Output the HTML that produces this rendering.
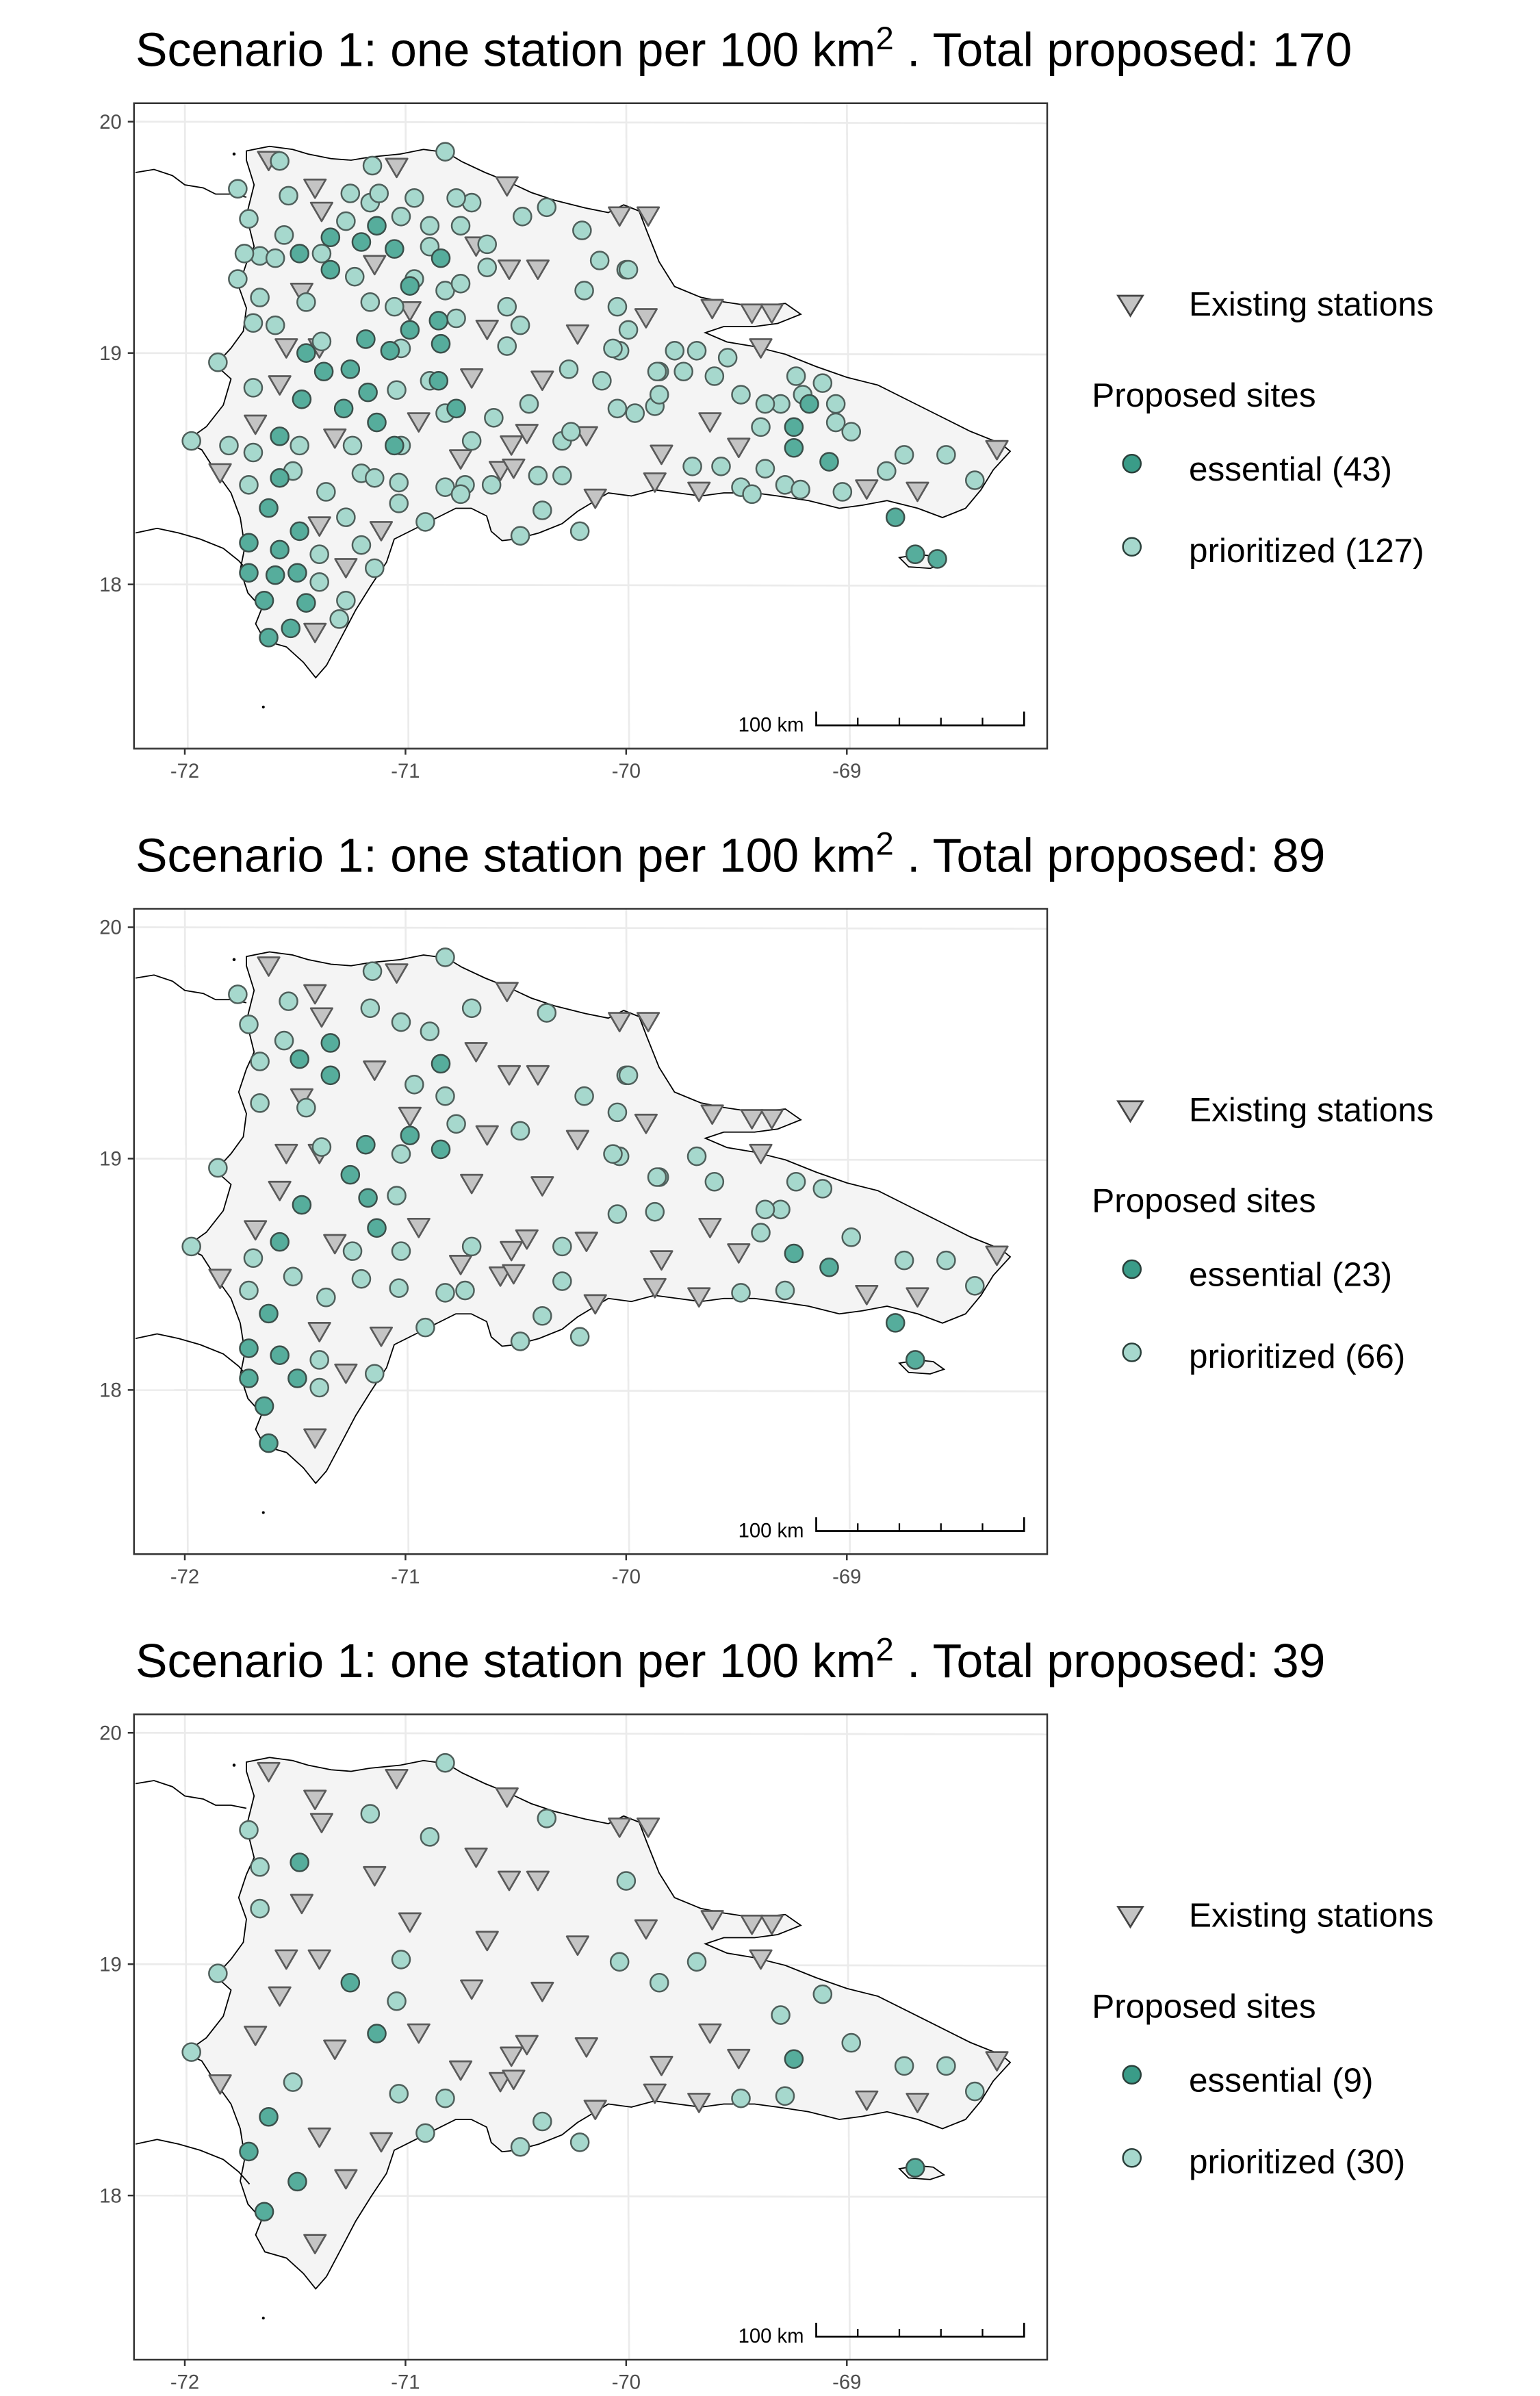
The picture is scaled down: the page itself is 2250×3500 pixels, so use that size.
<!DOCTYPE html>
<html><head><meta charset="utf-8"><style>
html,body{margin:0;padding:0;background:#fff}
svg{display:block}
text{font-family:"Liberation Sans",Arial,sans-serif}
</style></head><body>
<svg id="chart" xmlns="http://www.w3.org/2000/svg" width="2250" height="3500" viewBox="0 0 1000 1555.56"></svg>
<script>
// ---- data (lon, lat) ----
const stationLon=[-71.62,-71.41,-71.38,-71.04,-70.54,-70.68,-71.14,-71.47,-70.98,-71.54,-71.39,-70.63,-70.22,-70.38,-70.70,-71.57,-70.94,-71.68,-71.84,-71.32,-70.45,-70.18,-70.75,-70.57,-70.51,-70.52,-70.14,-69.87,-69.84,-69.67,-69.62,-69.49,-69.91,-69.61,-69.43,-69.34,-69.39,-70.03,-69.90,-70.53,-70.40,-71.39,-71.11,-71.27,-71.41,-68.91,-68.68,-68.32];
const stationLat=[19.83,19.71,19.61,19.80,19.72,19.46,19.38,19.26,19.18,19.02,19.02,19.10,19.08,18.88,18.89,18.86,18.70,18.69,18.48,18.63,18.65,18.64,18.54,18.49,18.50,18.60,18.37,18.44,18.56,18.40,18.70,18.59,19.15,19.19,19.17,19.17,19.02,19.59,19.59,19.36,19.36,18.25,18.23,18.07,17.79,18.41,18.40,18.58];

// scenario 3 (39)
const ess3Lon=[-71.48,-71.25,-71.13,-71.62,-71.71,-71.49,-71.64,-69.24,-68.69];
const ess3Lat=[19.44,18.92,18.70,18.34,18.19,18.06,17.93,18.59,18.12];
const pri3Lon=[-70.82,-71.16,-70.89,-71.71,-70.36,-71.66,-71.66,-70.00,-71.85,-71.02,-70.03,-69.68,-69.85,-71.04,-69.30,-69.11,-71.97,-71.51,-68.98,-68.74,-68.55,-68.42,-71.03,-70.82,-70.38,-70.48,-70.21,-69.48,-69.28,-70.91];
const pri3Lat=[19.87,19.65,19.55,19.58,19.63,19.42,19.24,19.36,18.96,19.02,19.01,19.01,18.92,18.84,18.78,18.87,18.62,18.49,18.66,18.56,18.56,18.45,18.44,18.42,18.32,18.21,18.23,18.42,18.43,18.27];

// scenario 2 (89)
const ess2Lon=[-71.34,-71.48,-71.34,-70.84,-71.18,-70.84,-71.25,-71.47,-71.17,-71.13,-71.57,-71.62,-71.71,-71.57,-71.49,-71.71,-71.64,-71.62,-69.24,-69.08,-68.78,-68.69,-70.98];
const ess2Lat=[19.50,19.43,19.36,19.41,19.06,19.04,18.93,18.80,18.83,18.70,18.64,18.33,18.18,18.15,18.05,18.05,17.93,17.77,18.59,18.53,18.29,18.13,19.10];
const pri2ExtraLon=[-71.76,-71.53,-71.15,-71.55,-71.02,-70.70,-70.96,-70.82,-71.45,-70.77,-71.38,-70.48,-70.19,-70.04,-69.99,-70.06,-69.86,-69.60,-69.37,-69.23,-71.20,-71.69,-71.24,-71.36,-71.02,-70.70,-70.29,-70.29,-70.04,-69.87,-69.39,-71.39,-71.39,-71.14,-71.71,-70.73];
const pri2ExtraLat=[19.71,19.68,19.81,19.51,19.59,19.65,19.32,19.27,19.22,19.15,19.05,19.12,19.27,19.20,19.36,19.02,18.92,18.90,18.78,18.90,18.48,18.57,18.60,18.40,18.60,18.62,18.62,18.47,18.76,18.77,18.68,18.13,18.01,18.07,18.43,18.43];

// scenario 1 (170) extras
const ess1ExtraLon=[-71.20,-71.13,-71.05,-70.98,-71.07,-71.37,-71.28,-71.05,-71.45,-71.57,-71.48,-71.59,-71.52,-71.45,-69.24,-69.17,-68.59,-70.85,-70.85,-70.77];
const ess1ExtraLat=[19.48,19.55,19.45,19.29,19.01,18.92,18.76,18.60,19.00,18.46,18.23,18.04,17.81,17.92,18.68,18.78,18.11,19.14,18.88,18.76];
const pri1ExtraLon=[-71.57,-71.25,-71.12,-70.96,-70.77,-71.27,-70.89,-70.75,-70.63,-70.47,-70.75,-70.63,-70.54,-70.20,-70.12,-69.99,-69.78,-69.85,-69.96,-69.74,-69.54,-69.48,-69.20,-69.05,-69.05,-69.57,-69.70,-69.37,-69.21,-69.02,-68.82,-69.43,-70.75,-70.61,-70.40,-70.25,-70.44,-70.60,-70.82,-70.89,-71.14,-71.03,-71.27,-71.20,-71.27,-71.30,-71.48,-71.80,-71.69,-71.59,-71.76,-71.69,-71.38,-71.59,-71.23,-71.16,-71.05,-70.54,-70.26,-70.11,-71.73];
const pri1ExtraLat=[19.83,19.69,19.69,19.67,19.67,19.57,19.46,19.55,19.47,19.59,19.30,19.37,19.20,19.53,19.40,19.10,19.01,18.82,18.74,18.92,18.98,18.82,18.82,18.70,18.78,18.51,18.51,18.50,18.41,18.40,18.49,18.39,18.39,18.43,18.47,18.66,18.78,18.72,18.74,18.88,18.46,18.35,18.29,18.17,17.93,17.85,18.60,18.60,18.85,19.12,19.32,19.13,19.43,19.41,19.33,19.22,19.20,19.03,18.93,18.88,19.43];

const xTicks=[-72,-71,-70,-69];
const yTicks=[20,19,18];
const totals=[170,89,39];
// --------------------------
const NS="http://www.w3.org/2000/svg";
const svg=document.getElementById('chart');
function mk(tag,attrs,parent){const e=document.createElementNS(NS,tag);for(const k in attrs)e.setAttribute(k,attrs[k]);(parent||svg).appendChild(e);return e;}
const X=lon=>120+(lon+72)*143.3;
const Y=(lat)=>79+(20-lat)*150.2;

const coast="M160,98 L175,95 L190,97 L200,100 L215,103 L228,104 L240,102 L260,100 L275,97 L290,99 L300,105 L315,112 L330,118 L345,125 L360,130 L380,135 L395,138 L405,133 L415,137 L420,150 L428,170 L438,186 L455,193 L470,196 L490,199 L510,197 L520,204 L505,210 L490,212 L470,212 L458,216 L472,222 L490,225 L510,230 L530,238 L550,245 L570,250 L590,260 L610,270 L630,280 L650,288 L656,293 L645,305 L637,318 L627,330 L612,336 L596,330 L576,325 L560,328 L545,330 L525,325 L505,322 L490,320 L470,320 L455,322 L440,320 L425,318 L410,322 L395,320 L385,326 L375,332 L365,340 L350,346 L335,350 L326,351 L319,345 L316,335 L306,330 L296,330 L286,335 L276,340 L266,345 L256,350 L251,365 L241,380 L231,396 L221,415 L212,432 L205,440 L197,430 L186,420 L172,416 L166,405 L170,395 L161,385 L156,370 L159,355 L156,336 L150,320 L140,306 L131,292 L120,287 L134,277 L145,263 L150,246 L140,237 L150,226 L158,215 L160,200 L155,186 L160,171 L165,160 L160,140 L165,120 L160,104 Z";
const haitiN="M88,112 L100,110 L112,114 L120,120 L132,122 L140,126 L150,126 L160,128";
const haitiS="M88,346 L102,343 L116,346 L130,350 L145,356 L155,364 L162,372";
const saona="M584,362 L596,360 L606,361 L613,366 L604,369 L590,368 Z";

function panel(i,off,ess,pri){
  const g=mk('g',{transform:`translate(0,${off})`});
  
  
  const t=mk('text',{x:88,y:43,'font-size':31,fill:'#000'},g);
  
  
  t.innerHTML=`Scenario 1: one station per 100 km<tspan dy="-11" font-size="21">2</tspan><tspan dy="11"> . Total proposed: ${totals[i]}</tspan>`;
  const clipId='clip'+i;
  const cp=mk('clipPath',{id:clipId},g);mk('rect',{x:87,y:67,width:593,height:419},cp);
  const inner=mk('g',{'clip-path':`url(#${clipId})`},g);
  xTicks.forEach(v=>{const l=mk('line',{x1:X(v),x2:X(v)+2,y1:60,y2:500,stroke:'#ebebeb','stroke-width':1.2},inner);});
  yTicks.forEach(v=>{const l=mk('line',{x1:80,x2:690,y1:Y(v),y2:Y(v)+1,stroke:'#ebebeb','stroke-width':1.2},inner);});
  const land=mk('path',{d:coast,fill:'#f4f4f4',stroke:'#000','stroke-width':0.8},inner);
  
  mk('path',{d:haitiN,fill:'none',stroke:'#000','stroke-width':0.8},inner);
  mk('path',{d:haitiS,fill:'none',stroke:'#000','stroke-width':0.8},inner);
  mk('path',{d:saona,fill:'#f4f4f4',stroke:'#000','stroke-width':0.8},inner);
  mk('circle',{cx:171,cy:459,r:0.9,fill:'#000'},inner);
  mk('circle',{cx:152,cy:100,r:1,fill:'#000'},inner);
  stationLon.forEach((lon,k)=>{const x=X(lon),y=Y(stationLat[k]);
    const p=mk('path',{d:`M${x-7},${y-6} L${x+7},${y-6} L${x},${y+6} Z`,fill:'#c4c4c4',stroke:'#5a5a5a','stroke-width':1.2,'stroke-linejoin':'round'},inner);
    });
  pri.lon.forEach((lon,k)=>{const c=mk('circle',{cx:X(lon),cy:Y(pri.lat[k]),r:5.8,fill:'#a6d8cd',stroke:'#4f5f5b','stroke-width':1.1},inner);
    });
  ess.lon.forEach((lon,k)=>{const c=mk('circle',{cx:X(lon),cy:Y(ess.lat[k]),r:5.8,fill:'#56ad9c',stroke:'#3b4f4a','stroke-width':1.1},inner);
    });
  const sb=mk('g',{},g);
  mk('text',{x:522,y:475,'font-size':13,'text-anchor':'end'},sb).textContent='100 km';
  mk('path',{d:'M530,462 L530,471 L665,471 L665,462',fill:'none',stroke:'#000','stroke-width':1.2},sb);
  [557,584,611,638].forEach(x=>mk('line',{x1:x,x2:x,y1:466,y2:471,stroke:'#000','stroke-width':1},sb));
  const fr=mk('rect',{x:87,y:67,width:593,height:419,fill:'none',stroke:'#333','stroke-width':1.1},g);
  
  xTicks.forEach(v=>{mk('line',{x1:X(v),x2:X(v),y1:486,y2:490,stroke:'#333','stroke-width':1.1},g);
    const t=mk('text',{x:X(v),y:505,'font-size':13,fill:'#4d4d4d','text-anchor':'middle'},g);t.textContent=v;});
  yTicks.forEach(v=>{mk('line',{x1:83,x2:87,y1:Y(v),y2:Y(v),stroke:'#333','stroke-width':1.1},g);
    const t=mk('text',{x:79,y:Y(v)+4.5,'font-size':13,fill:'#4d4d4d','text-anchor':'end'},g);t.textContent=v;});
  const lg=mk('g',{},g);
  mk('path',{d:'M726,192 L742,192 L734,205 Z',fill:'#c4c4c4',stroke:'#444','stroke-width':1.2},lg);
  mk('text',{x:772,y:205,'font-size':22},lg).textContent='Existing stations';
  mk('text',{x:709,y:264,'font-size':22},lg).textContent='Proposed sites';
  mk('circle',{cx:735,cy:301,r:5.8,fill:'#3a9c88',stroke:'#2a3f3a','stroke-width':1.1},lg);
  mk('text',{x:772,y:312,'font-size':22},lg).textContent=`essential (${ess.lon.length})`;
  mk('circle',{cx:735,cy:355,r:5.8,fill:'#a6d8cd',stroke:'#2a3f3a','stroke-width':1.1},lg);
  mk('text',{x:772,y:365,'font-size':22},lg).textContent=`prioritized (${pri.lon.length})`;
}
const ess3={lon:ess3Lon,lat:ess3Lat}, pri3={lon:pri3Lon,lat:pri3Lat};
const ess2={lon:ess2Lon,lat:ess2Lat}, pri2={lon:pri3Lon.concat(pri2ExtraLon),lat:pri3Lat.concat(pri2ExtraLat)};
const ess1={lon:ess2Lon.concat(ess1ExtraLon),lat:ess2Lat.concat(ess1ExtraLat)}, pri1={lon:pri2.lon.concat(pri1ExtraLon),lat:pri2.lat.concat(pri1ExtraLat)};
panel(0,0,ess1,pri1);
panel(1,523,ess2,pri2);
panel(2,1046,ess3,pri3);
</script>
</body></html>
